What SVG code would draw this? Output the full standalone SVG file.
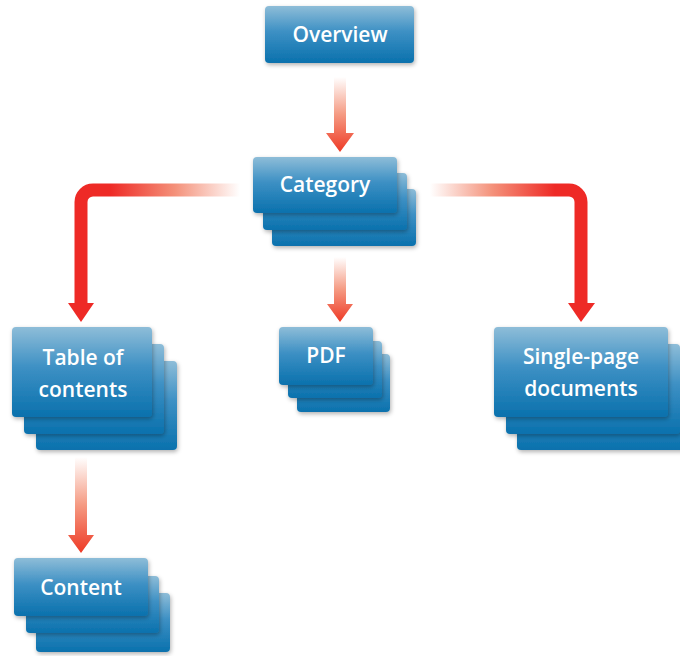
<svg xmlns="http://www.w3.org/2000/svg" width="680" height="656" viewBox="0 0 680 656">
<style>
.box{fill:url(#boxg);filter:url(#sh)}
.lbl{font-family:"Open Sans","Noto Sans",sans-serif;font-weight:600;font-size:21px;fill:#ffffff;text-anchor:middle}
.arr{fill:url(#arrg)}
.bent{fill:none;stroke-width:13}
.head{fill:#ee2a26}
</style>
<defs>
<linearGradient id="boxg" x1="0" y1="0" x2="0" y2="1">
<stop offset="0" stop-color="#8ebdd8"/>
<stop offset="0.45" stop-color="#3d90c4"/>
<stop offset="1" stop-color="#0a71ad"/>
</linearGradient>
<linearGradient id="arrg" x1="0" y1="0" x2="0" y2="1">
<stop offset="0" stop-color="#ffffff"/>
<stop offset="0.5" stop-color="#f59a82"/>
<stop offset="1" stop-color="#ee3a26"/>
</linearGradient>
<linearGradient id="lg" gradientUnits="userSpaceOnUse" x1="240" y1="0" x2="110" y2="0">
<stop offset="0" stop-color="#ffffff"/>
<stop offset="0.5" stop-color="#f4917a"/>
<stop offset="1" stop-color="#ee2a26"/>
</linearGradient>
<linearGradient id="rg" gradientUnits="userSpaceOnUse" x1="430" y1="0" x2="555" y2="0">
<stop offset="0" stop-color="#ffffff"/>
<stop offset="0.5" stop-color="#f4917a"/>
<stop offset="1" stop-color="#ee2a26"/>
</linearGradient>
<filter id="sh" x="-10%" y="-10%" width="125%" height="130%">
<feDropShadow dx="1" dy="2" stdDeviation="2" flood-color="#000" flood-opacity="0.3"/>
</filter>
</defs>
<rect width="680" height="656" fill="#ffffff"/>
<g id="connectors">
<path class="arr" d="M334,77 H346 V133 H354 L340,152 L326,133 H334 Z"/>
<path class="arr" d="M334,257 H346 V304 H353 L340,322 L327,304 H334 Z"/>
<path class="arr" d="M75,457 H87 V535 H94 L81,553 L68,535 H75 Z"/>
<path class="bent" stroke="url(#lg)" d="M240,190 H93 A12,12 0 0 0 81,202 V304"/>
<polygon class="head" points="68,303 94,303 81,322"/>
<path class="bent" stroke="url(#rg)" d="M430,190 H569 A12,12 0 0 1 581,202 V304"/>
<polygon class="head" points="568,303 595,303 581,322"/>
</g>
<g id="overview">
<rect class="box" x="265" y="6" width="149" height="57" rx="4"/>
<text class="lbl" x="340" y="42">Overview</text>
</g>
<g id="category">
<rect class="box" x="272" y="189" width="144" height="57" rx="4"/>
<rect class="box" x="263" y="173" width="144" height="57" rx="4"/>
<rect class="box" x="253" y="157" width="144" height="56" rx="4"/>
<text class="lbl" x="325" y="192">Category</text>
</g>
<g id="toc">
<rect class="box" x="36" y="361" width="141" height="89" rx="4"/>
<rect class="box" x="24" y="344" width="140" height="90" rx="4"/>
<rect class="box" x="12" y="327" width="140" height="90" rx="4"/>
<text class="lbl" x="83" y="365">Table of</text>
<text class="lbl" x="83" y="397">contents</text>
</g>
<g id="pdf">
<rect class="box" x="297" y="354" width="93" height="58" rx="4"/>
<rect class="box" x="288" y="341" width="94" height="57" rx="4"/>
<rect class="box" x="279" y="327" width="94" height="58" rx="4"/>
<text class="lbl" x="326" y="363">PDF</text>
</g>
<g id="single">
<rect class="box" x="517" y="361" width="174" height="89" rx="4"/>
<rect class="box" x="506" y="344" width="174" height="90" rx="4"/>
<rect class="box" x="494" y="327" width="174" height="90" rx="4"/>
<text class="lbl" x="581" y="364">Single-page</text>
<text class="lbl" x="581" y="396">documents</text>
</g>
<g id="content">
<rect class="box" x="36" y="593" width="134" height="59" rx="4"/>
<rect class="box" x="26" y="576" width="133" height="57" rx="4"/>
<rect class="box" x="14" y="558" width="134" height="58" rx="4"/>
<text class="lbl" x="81" y="595">Content</text>
</g>
</svg>
